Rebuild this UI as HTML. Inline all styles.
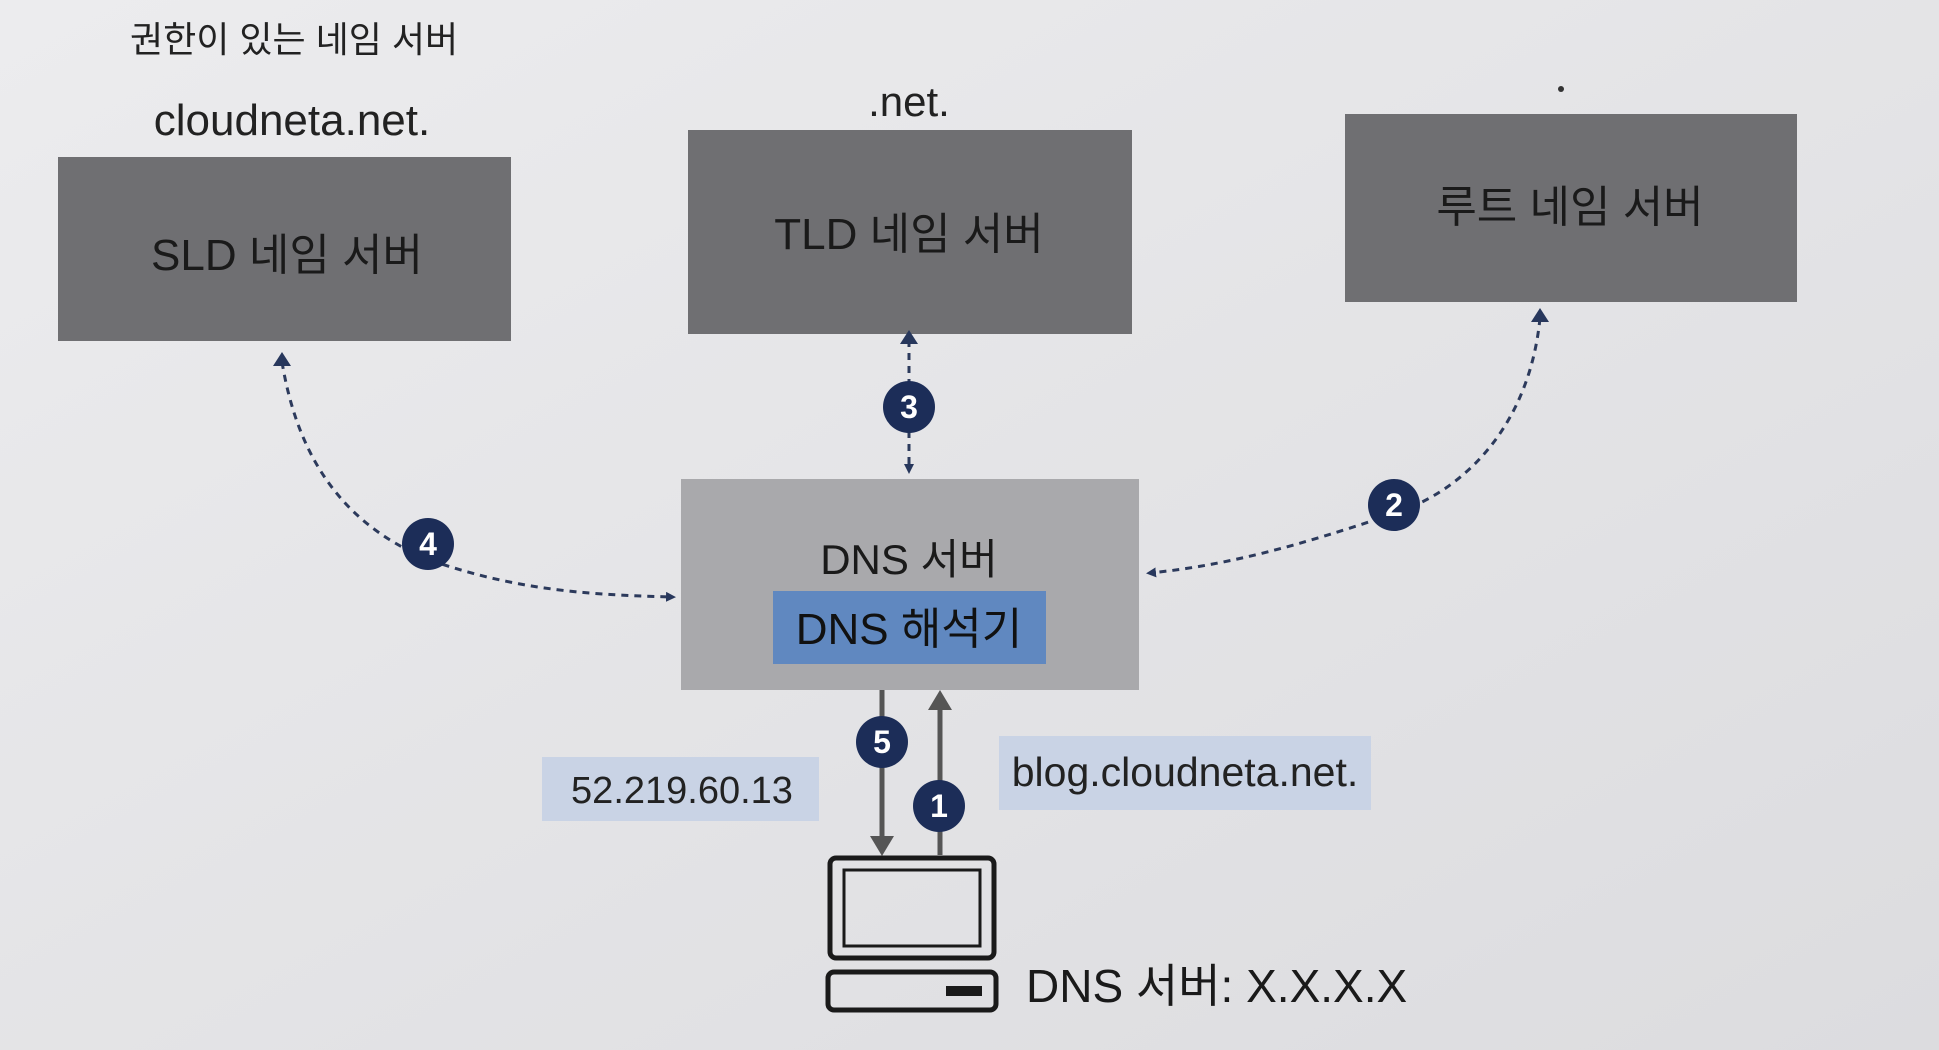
<!DOCTYPE html>
<html><head><meta charset="utf-8"><style>
html,body{margin:0;padding:0;background:#e6e6e8;}
svg{display:block;}
text{font-family:"Liberation Sans","Noto Sans CJK KR",sans-serif;}
</style></head><body>
<svg width="1939" height="1050" viewBox="0 0 1939 1050" xmlns="http://www.w3.org/2000/svg">
<defs>
<linearGradient id="bg" x1="0" y1="0" x2="1" y2="1">
<stop offset="0" stop-color="#ececee"/><stop offset="1" stop-color="#dcdcdf"/></linearGradient>
<marker id="ah" markerWidth="10" markerHeight="10" refX="6" refY="5" orient="auto" markerUnits="userSpaceOnUse"><path d="M0,0 L10,5 L0,10 z" fill="#27375c"/></marker>
</defs>
<rect width="1939" height="1050" fill="url(#bg)"/>
<text x="130" y="52" font-size="36" fill="#222">권한이 있는 네임 서버</text>
<text x="292" y="135" font-size="44" fill="#222" text-anchor="middle">cloudneta.net.</text>
<text x="909" y="116" font-size="42" fill="#222" text-anchor="middle">.net.</text>
<circle cx="1561" cy="89" r="3" fill="#333"/>
<rect x="58" y="157" width="453" height="184" fill="#6f6f72"/>
<text x="287" y="270" font-size="44" fill="#1a1a1a" text-anchor="middle">SLD 네임 서버</text>
<rect x="688" y="130" width="444" height="204" fill="#6f6f72"/>
<text x="909" y="249" font-size="44" fill="#1a1a1a" text-anchor="middle">TLD 네임 서버</text>
<rect x="1345" y="114" width="452" height="188" fill="#6f6f72"/>
<text x="1570" y="222" font-size="44" fill="#1a1a1a" text-anchor="middle">루트 네임 서버</text>
<rect x="681" y="479" width="458" height="211" fill="#a9a9ac"/>
<text x="909" y="574" font-size="42" fill="#1a1a1a" text-anchor="middle">DNS 서버</text>
<rect x="773" y="591" width="273" height="73" fill="#6088c0"/>
<text x="909" y="644" font-size="44" fill="#111" text-anchor="middle">DNS 해석기</text>
<g fill="none" stroke="#2c3a5c" stroke-width="3" stroke-dasharray="7,6">
<path d="M282,362 C295,440 330,520 430,560 C520,592 600,595 672,597" marker-end="url(#ah)"/>
<path d="M1540,318 C1530,420 1470,490 1390,515 C1300,545 1230,565 1150,573" marker-end="url(#ah)"/>
<path d="M909,340 L909,470" marker-end="url(#ah)"/>
</g>
<path d="M282,352 l-9,14 h18 z" fill="#27375c"/>
<path d="M1540,308 l-9,14 h18 z" fill="#27375c"/>
<path d="M909,330 l-9,14 h18 z" fill="#27375c"/>
<g stroke="#555" stroke-width="5">
<line x1="882" y1="690" x2="882" y2="840"/>
<line x1="940" y1="855" x2="940" y2="705"/>
</g>
<path d="M870,836 h24 l-12,20 z" fill="#555"/>
<path d="M928,710 h24 l-12,-20 z" fill="#555"/>
<g fill="#1c2d58">
<circle cx="909" cy="407" r="26"/><circle cx="1394" cy="505" r="26"/>
<circle cx="428" cy="544" r="26"/><circle cx="882" cy="742" r="26"/>
<circle cx="939" cy="806" r="26"/></g>
<g fill="#fff" font-size="32" font-weight="bold" text-anchor="middle">
<text x="909" y="418">3</text><text x="1394" y="516">2</text><text x="428" y="555">4</text>
<text x="882" y="753">5</text><text x="939" y="817">1</text></g>
<rect x="542" y="757" width="277" height="64" fill="#c9d3e5"/>
<text x="682" y="803" font-size="38" fill="#222" text-anchor="middle">52.219.60.13</text>
<rect x="999" y="736" width="372" height="74" fill="#c9d3e5"/>
<text x="1185" y="786" font-size="41" fill="#222" text-anchor="middle">blog.cloudneta.net.</text>
<g fill="none" stroke="#1a1a1a">
<rect x="830" y="858" width="164" height="100" rx="6" stroke-width="5"/>
<rect x="844" y="870" width="136" height="76" stroke-width="3"/>
<rect x="828" y="972" width="168" height="38" rx="6" stroke-width="5"/>
</g>
<rect x="946" y="986" width="36" height="10" fill="#1a1a1a"/>
<text x="1026" y="1002" font-size="46" fill="#1a1a1a">DNS 서버: X.X.X.X</text>
</svg>
</body></html>
